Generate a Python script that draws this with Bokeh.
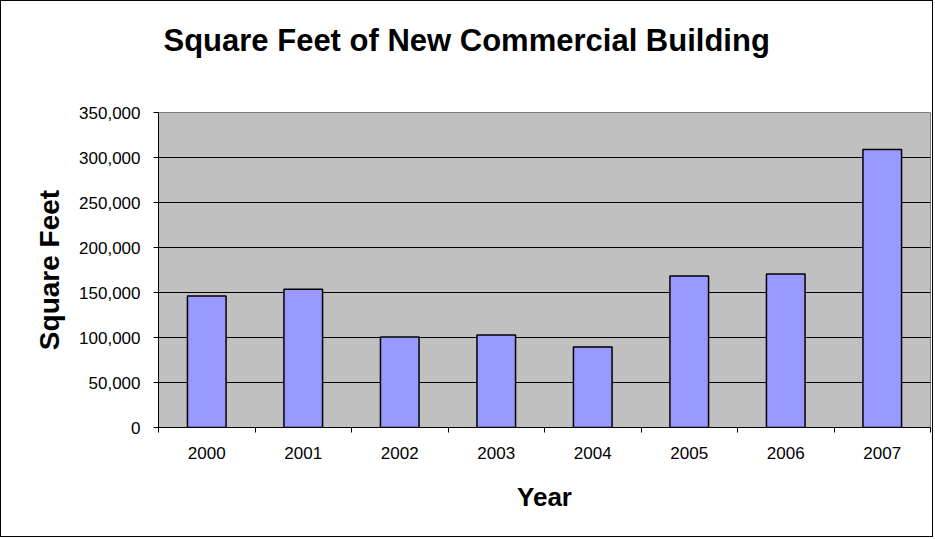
from bokeh.plotting import figure
from bokeh.models import ColumnDataSource, FixedTicker, NumeralTickFormatter, Range1d
from bokeh.embed import file_html
from bokeh.resources import INLINE
import numpy as np

title_text = "Square Feet of New Commercial Building"
years = ["2000", "2001", "2002", "2003", "2004", "2005", "2006", "2007"]
square_feet = [146000, 153500, 100500, 102800, 89500, 168300, 170500, 309000]
y_ticks = [0, 50000, 100000, 150000, 200000, 250000, 300000, 350000]

x_pos = np.arange(len(years)) + 0.5
source = ColumnDataSource(data=dict(x=x_pos, year=years, value=square_feet))

p = figure(
    width=933, height=537,
    output_backend="svg", toolbar_location=None,
    x_range=Range1d(0, len(years)), y_range=Range1d(0, 350000),
    min_border_left=157, min_border_right=4, min_border_top=111, min_border_bottom=111,
    background_fill_color="#C0C0C0", border_fill_color="white",
    title=title_text + "\n",
)
p.styles = {"border": "1px solid #000000"}

p.vbar(x="x", top="value", width=0.4, bottom=0, source=source,
       fill_color="#9999FF", line_color="black", line_width=1.5)

p.title.text_font = "Liberation Sans"
p.title.text_font_size = "31px"
p.title.text_font_style = "bold"
p.title.text_color = "black"
p.title.align = "left"
p.title.offset = 5
p.title.standoff = 39

p.outline_line_color = "#808080"
p.outline_line_width = 1

# y axis
p.yaxis.ticker = FixedTicker(ticks=y_ticks)
p.yaxis.formatter = NumeralTickFormatter(format="0,0")
p.yaxis.axis_label = "Square Feet"
p.yaxis.axis_label_text_font = "Liberation Sans"
p.yaxis.axis_label_text_font_size = "28px"
p.yaxis.axis_label_text_font_style = "bold"
p.yaxis.axis_label_text_color = "black"
p.yaxis.axis_label_standoff = 11
p.yaxis.major_label_text_font = "Liberation Sans"
p.yaxis.major_label_text_font_size = "17px"
p.yaxis.major_label_text_color = "black"
p.yaxis.major_label_standoff = 13
p.yaxis.major_tick_out = 5
p.yaxis.major_tick_in = 0
p.yaxis.minor_tick_line_color = None
p.yaxis.axis_line_color = "black"
p.yaxis.major_tick_line_color = "black"

# x axis
p.xaxis.ticker = FixedTicker(ticks=list(x_pos), minor_ticks=list(range(len(years) + 1)))
p.xaxis.major_label_overrides = {float(x): y for x, y in zip(x_pos, years)}
p.xaxis.axis_label = "Year"
p.xaxis.axis_label_text_font = "Liberation Sans"
p.xaxis.axis_label_text_font_size = "26px"
p.xaxis.axis_label_text_font_style = "bold"
p.xaxis.axis_label_text_color = "black"
p.xaxis.axis_label_standoff = 20
p.xaxis.major_label_text_font = "Liberation Sans"
p.xaxis.major_label_text_font_size = "17px"
p.xaxis.major_label_text_color = "black"
p.xaxis.major_label_standoff = 14
p.xaxis.major_tick_line_color = None
p.xaxis.major_tick_out = 0
p.xaxis.major_tick_in = 0
p.xaxis.minor_tick_line_color = "black"
p.xaxis.minor_tick_out = 5
p.xaxis.minor_tick_in = 0
p.xaxis.axis_line_color = "black"

p.xgrid.grid_line_color = None
p.ygrid.grid_line_color = "black"
p.ygrid.grid_line_width = 1

open("out.html", "w").write(file_html(p, INLINE))
